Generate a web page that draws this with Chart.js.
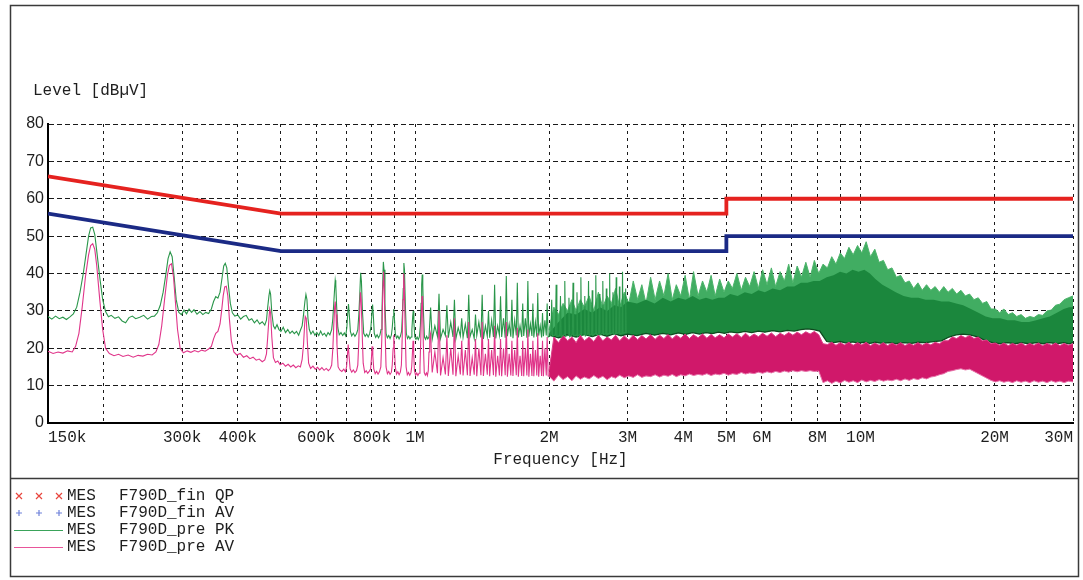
<!DOCTYPE html>
<html>
<head>
<meta charset="utf-8">
<script src="https://cdn.jsdelivr.net/npm/chart.js@4.4.1/dist/chart.umd.min.js"></script>
<style>
html,body{margin:0;padding:0;background:#fff;}
canvas{display:block;}
</style>
</head>
<body>
<canvas id="c" width="1083" height="580"></canvas>
<script>
// ---------- axis ticks ----------
const xTickValues = [150e3,200e3,300e3,400e3,500e3,600e3,700e3,800e3,900e3,1e6,2e6,3e6,4e6,5e6,6e6,7e6,8e6,9e6,10e6,20e6,30e6];
const xTickLabels = ['150k','','300k','400k','','600k','','800k','','1M','2M','3M','4M','5M','6M','','8M','','10M','20M','30M'];
const yTickValues = [0,10,20,30,40,50,60,70,80];

// ---------- limit lines (MHz, dBµV) ----------
const limitFreqMHz = [0.15, 0.5, 5, 5, 30];
const qpLimit = [66, 56, 56, 60, 60];
const avLimit = [56, 46, 46, 50, 50];

// ---------- pre-scan PK trace, resolved part (kHz, dBµV) ----------
const pkSparse = [
[150,28.5],[153,27.8],[156,28.6],[159,27.9],[162,28.3],[165,27.7],[168,28.4],[171,29.2],[174,31.0],[177,35.0],[180,40.0],[183,46.0],[185,50.0],[187,52.2],[189,52.4],[191,50.5],[193,46.0],[196,39.0],[199,33.0],[202,29.8],[205,28.4],[208,28.8],[212,28.0],[216,28.4],[220,27.3],[224,26.8],[228,28.2],[232,28.6],[236,27.9],[241,28.3],[246,28.8],[251,27.8],[256,28.5],[260,28.6],[264,29.5],[268,31.5],[272,35.0],[276,40.0],[279,44.0],[282,45.8],[285,44.5],[288,39.0],[291,33.0],[295,29.6],[299,29.0],[303,30.2],[307,29.2],[311,30.5],[315,29.6],[319,30.3],[324,29.1],[329,29.8],[334,29.0],[339,29.6],[344,29.3],[349,30.5],[353,32.5],[357,33.8],[361,33.4],[365,35.0],[369,39.0],[372,42.0],[375,42.7],[378,41.5],[381,37.0],[385,32.0],[389,29.5],[394,28.6],[400,28.9],[406,27.8],[412,28.5],[418,28.8],[424,27.5],[430,27.9],[436,26.8],[442,27.6],[448,26.5],[454,27.1],[460,26.2],[464,27.5],[467,31.0],[470,34.0],[472,35.4],[474,34.5],[477,29.5],[481,26.0],[485,25.2],[490,26.3],[495,25.0],[500,24.5],[506,25.6],[512,24.2],[518,25.0],[524,24.0],[530,24.6],[536,23.9],[542,24.5],[548,23.5],[553,24.8],[558,26.0],[562,29.0],[566,32.5],[569,34.4],[572,33.0],[575,28.0],[579,25.0],[584,23.8],[590,24.6],[596,23.5],[602,24.2],[608,23.4],[614,24.6],[620,23.5],[626,24.0],[632,23.2],[638,24.2],[644,23.6],[650,25.0],[654,28.0],[657,32.0],[660,36.0],[662,38.2],[664,37.0],[667,31.0],[671,25.5],[676,23.6],[682,24.2],[688,23.4],[694,24.1],[699,23.3],[703,25.5],[706,29.0],[709,31.8],[712,29.0],[716,24.5],[721,23.3],[727,24.0],[733,23.2],[739,23.9],[744,25.0],[748,29.0],[752,35.0],[755,40.2],[758,38.0],[762,30.0],[767,24.0],[773,23.2],[779,23.8],[785,23.0],[791,23.9],[796,25.5],[800,29.0],[803,31.7],[806,29.0],[810,24.0],[816,22.9],[822,23.6],[828,22.8],[834,23.5],[839,25.0],[843,30.0],[846,37.0],[849,43.1],[852,41.0],[856,32.0],[861,24.0],[867,22.8],[873,23.4],[879,22.6],[885,23.5],[889,25.5],[893,28.5],[896,30.5],[899,28.0],[903,24.0],[909,22.7],[915,23.3],[921,22.5],[927,23.2],[933,24.5],[937,29.0],[941,36.0],[944,42.8],[947,41.0],[951,32.0],[956,24.0],[962,22.6],[968,23.2],[974,22.5],[980,23.0],[984,25.0],[988,28.5],[991,30.0],[994,27.0],[999,23.0],[1005,22.4],[1011,23.0],[1017,22.3],[1023,23.1],[1028,26.0],[1032,32.0],[1035,37.0],[1038,39.7],[1041,37.0],[1045,29.0],[1050,23.0],[1056,22.4],[1062,23.2],[1068,22.5],
[1075,23.0],[1084,30.9],[1093,22.4],[1108,26.0],
[1123,23.2],[1132,34.6],[1141,22.6],[1156,25.0],
[1170,23.4],[1179,31.5],[1188,22.8],[1203,27.0],
[1217,23.0],[1226,33.0],[1235,22.5],[1250,25.5],
[1264,23.3],[1273,28.0],[1282,22.9],[1297,26.5],
[1311,22.7],[1320,34.3],[1329,23.1],[1344,25.0],
[1358,22.6],[1367,29.0],[1376,23.4],[1391,27.0],
[1406,22.9],[1415,34.3],[1424,22.5],[1439,26.0],
[1453,23.2],[1462,30.0],[1471,22.8],[1486,27.5],
[1500,23.0],[1509,37.0],[1518,22.6],[1533,26.0],
[1547,23.5],[1556,33.9],[1565,23.0],[1580,28.0],
[1594,22.8],[1603,39.3],[1612,23.2],[1627,26.5],
[1641,23.1],[1650,33.0],[1659,22.7],[1674,27.5],
[1688,23.4],[1697,37.5],[1706,22.9],[1721,26.0],
[1736,23.0],[1745,32.0],[1754,23.3],[1769,28.0],
[1783,22.8],[1792,38.0],[1801,23.1],[1816,26.5],
[1830,23.3],[1839,32.0],[1848,22.9],[1863,27.0],
[1877,23.1],[1886,34.8],[1895,23.4],[1910,26.0],
[1924,22.9],[1933,29.4],[1942,23.2],[1957,27.5],
[1971,23.4],[1980,32.0],[1990,23.0],
[2019,23.5],[2027,33.0],[2035,23.2],[2066,23.6],[2074,37.0],[2082,23.1],[2113,23.4],[2121,34.0],[2129,23.0],
[2161,23.6],[2169,38.0],[2177,23.2],[2208,23.5],[2216,33.5],[2224,23.1],[2255,23.7],[2263,37.5],[2271,23.3],
[2302,23.5],[2310,35.0],[2318,23.2],[2349,23.8],[2357,39.0],[2365,23.4],[2397,23.6],[2405,34.0],[2413,23.3],
[2444,23.8],[2452,38.0],[2460,23.5],[2491,23.7],[2499,35.5],[2507,23.4],[2538,23.9],[2546,39.5],[2554,23.6],
[2585,23.8],[2593,34.5],[2601,23.5],[2632,24.0],[2640,38.0],[2648,23.7],[2680,23.9],[2688,36.0],[2696,23.6],
[2727,24.0],[2735,40.0],[2743,23.8],[2774,24.1],[2782,35.0],[2790,23.7],[2821,24.0],[2829,39.0],[2837,23.9],
[2868,24.2],[2876,36.5],[2884,23.8],[2915,24.1],[2923,40.5],[2931,24.0],[2963,24.2],[2971,36.0],[2979,24.0]
];

// ---------- pre-scan AV trace, resolved part (kHz, dBµV) ----------
const avSparse = [
[150,19.2],[154,18.6],[158,19.0],[162,18.7],[166,19.3],[170,19.0],[173,20.5],[176,24.0],[179,31.0],[182,39.0],[185,45.0],[187,47.5],[189,48.0],[191,46.5],[193,42.0],[196,33.0],[199,25.0],[202,20.0],[206,18.6],[211,18.0],[216,18.4],[221,17.8],[227,18.2],[233,17.6],[239,18.1],[245,17.9],[251,18.4],[257,18.2],[262,19.0],[266,21.0],[270,26.0],[274,33.0],[278,39.5],[281,42.2],[284,42.6],[287,39.0],[290,32.0],[293,25.0],[297,20.0],[302,18.8],[308,19.3],[314,18.9],[320,19.4],[326,19.0],[332,19.5],[338,19.2],[344,19.8],[349,20.5],[353,22.5],[357,24.0],[361,24.5],[365,26.5],[368,30.0],[371,34.0],[374,36.4],[377,36.6],[380,34.0],[383,28.0],[387,22.0],[392,19.0],[398,18.2],[405,18.6],[412,17.6],[419,18.0],[426,17.2],[433,17.6],[440,16.8],[447,17.1],[454,16.4],[460,16.9],[464,18.5],[467,23.0],[470,28.0],[472,30.5],[474,29.5],[477,23.0],[481,17.5],[486,16.2],[492,16.6],[498,15.6],[505,16.0],[512,15.2],[519,15.7],[526,15.0],[533,15.5],[540,14.8],[547,15.3],[553,15.0],[558,17.0],[562,21.0],[565,26.0],[567,28.5],[570,28.0],[573,22.0],[577,16.0],[583,14.6],[590,15.2],[597,14.4],[604,14.9],[611,14.2],[618,14.8],[625,14.1],[632,14.6],[639,14.0],[645,14.5],[650,15.5],[654,20.0],[657,26.0],[660,31.0],[662,32.5],[665,29.0],[668,21.0],[672,15.0],[678,14.2],[685,13.8],[692,14.4],[698,13.7],[702,15.0],[705,18.0],[708,21.0],[711,18.0],[715,14.5],[721,13.6],[727,14.2],[733,13.5],[739,14.0],[744,15.5],[748,22.0],[751,29.0],[754,35.0],[757,33.0],[761,24.0],[765,16.0],[771,13.5],[777,14.0],[783,13.3],[789,13.8],[795,14.5],[798,17.0],[801,20.5],[804,18.0],[808,14.5],[814,13.2],[820,13.8],[826,13.1],[832,13.7],[838,15.0],[842,22.0],[845,31.0],[848,38.0],[850,40.5],[853,36.0],[857,24.0],[861,15.0],[867,13.2],[873,13.8],[879,13.0],[885,13.6],[889,15.5],[893,20.0],[896,23.5],[899,20.0],[903,15.0],[909,13.1],[915,13.7],[921,12.9],[927,13.6],[932,15.5],[936,23.0],[940,33.0],[943,40.0],[946,37.0],[950,26.0],[955,15.0],[961,12.9],[967,13.5],[973,12.8],[979,13.4],[983,15.0],[987,19.0],[990,22.0],[993,19.0],[997,14.0],[1003,12.8],[1009,13.4],[1015,12.7],[1021,13.3],[1026,15.0],[1030,22.0],[1034,30.0],[1037,34.0],[1040,31.0],[1044,21.0],[1049,13.5],[1055,12.8],[1061,13.4],[1066,12.7],[1071,14.0],[1075,19.0],[1079,23.0],[1084,24.0],[1088,19.0],[1093,13.5],
[1108,19.0],[1123,13.3],[1132,30.0],[1141,12.7],[1156,17.5],[1170,13.0],[1179,23.5],[1188,12.6],[1203,20.0],[1217,12.9],[1226,28.0],[1235,12.5],[1250,18.0],[1264,13.0],[1273,22.0],[1282,12.7],[1297,19.5],[1311,12.8],[1320,27.0],[1329,12.6],[1344,17.5],[1358,12.9],[1367,22.5],[1376,12.5],[1391,20.0],[1406,12.8],[1415,27.0],[1424,12.6],[1439,18.5],[1453,12.9],[1462,22.5],[1471,12.5],[1486,19.5],[1500,12.8],[1509,26.0],[1518,12.4],[1533,18.0],[1547,12.7],[1556,22.5],[1565,12.5],[1580,20.0],[1594,12.8],[1603,27.0],[1612,12.4],[1627,18.5],[1641,12.7],[1650,22.0],[1659,12.6],[1674,19.5],[1688,12.8],[1697,25.5],[1706,12.4],[1721,18.0],[1736,12.6],[1745,22.0],[1754,12.5],[1769,20.0],[1783,12.7],[1792,25.0],[1801,12.4],[1816,18.5],[1830,12.6],[1839,22.0],[1848,12.5],[1863,19.5],[1877,12.7],[1886,24.0],[1895,12.4],[1910,18.0],[1924,12.6],[1933,22.0],[1942,12.5],[1957,20.0],[1971,12.7],[1980,23.0],[1990,12.6],[2000,12.5]
];

// ---------- dense part above 2 MHz, coarse envelopes (MHz, dBµV) ----------
const bandFreqMHz = [2.0,2.1,2.2,2.3,2.4,2.5,2.6,2.7,2.8,2.9,3.0,3.15,3.3,3.45,3.6,3.75,3.9,4.05,4.2,4.35,4.5,4.65,4.8,4.95,5.1,5.3,5.5,5.7,5.9,6.1,6.35,6.6,6.85,7.1,7.35,7.6,7.85,8.1,8.4,8.7,9.0,9.3,9.6,9.9,10.2,10.5,10.8,11.2,11.6,12.0,12.5,13.0,13.5,14.0,14.6,15.2,15.8,16.4,17.0,17.7,18.4,19.1,19.8,20.6,21.4,22.2,23.0,23.9,24.8,25.7,26.6,27.6,28.6,29.4,30.0];
const pkBandCore = [24,27,29.5,29,30.5,29.5,31,30,31.5,31,32.5,32,33,32,33.5,32.5,33.5,33,34,33,33.5,33,33.5,33.5,34.5,34,35,34.5,35.5,35,36,35.5,36.5,36.5,37.5,37.5,38,38,39,39.5,40.5,40,41,40.5,41,40,38.5,37,36,35,34,33.5,33.5,33,33,32.5,32.5,32,31.5,30.5,29.5,28.5,28,28,27.5,27.5,27,27,27.5,28,28.5,29.5,30.5,31,31];
const pkBandLow  = [23.5,22.8,23.6,23.0,23.7,23.1,23.8,23.2,23.9,23.3,23.8,23.4,24.0,23.5,24.0,23.6,24.1,23.7,24.2,23.8,24.2,23.9,24.3,24.0,24.4,24.1,24.5,24.2,24.6,24.3,24.7,24.4,24.8,24.6,25.0,25.2,25.0,24.6,21.8,21.5,21.8,21.4,21.7,21.4,21.6,21.3,21.6,21.3,21.5,21.2,21.5,21.3,21.6,21.5,21.8,22.0,23.0,23.6,23.8,23.5,23.0,22.0,21.5,21.2,21.5,21.2,21.5,21.2,21.5,21.2,21.5,21.2,21.5,21.2,21.5];

// ---------- dense part above 2 MHz, fine spike envelopes (MHz, dBµV) ----------
const fineFreqMHz = [
2.00,2.05,2.10,2.15,2.20,2.25,2.30,2.35,2.40,2.46,
2.52,2.58,2.64,2.70,2.76,2.82,2.88,2.95,3.02,3.09,
3.16,3.23,3.30,3.38,3.46,3.54,3.62,3.70,3.78,3.86,
3.95,4.04,4.13,4.22,4.32,4.42,4.52,4.62,4.72,4.83,
4.94,5.05,5.16,5.28,5.40,5.52,5.64,5.77,5.90,6.03,
6.17,6.31,6.45,6.60,6.75,6.90,7.05,7.21,7.37,7.54,
7.71,7.88,8.06,8.24,8.43,8.62,8.81,9.01,9.21,9.42,
9.63,9.85,10.07,10.3,10.53,10.77,11.01,11.26,11.51,11.77,
12.04,12.31,12.59,12.87,13.16,13.46,13.76,14.07,14.39,14.71,
15.04,15.38,15.73,16.08,16.44,16.81,17.19,17.58,17.98,18.38,
18.79,19.21,19.64,20.08,20.53,20.99,21.46,21.94,22.43,22.94,
23.46,23.99,24.53,25.08,25.64,26.22,26.81,27.41,28.03,28.66,
29.3,30.0];
const pkFineTop = [
25,31,29,32,30,33,30,33,31,34,
30,35,31,34,32,36,31,35,32,38,
33,37,32,39,33,38,34,40,33,37,
34,39.5,33,40.5,34,38,35,39.5,34,38.5,
35,38,36,40,35.5,39,36.5,40.5,36,41,
37,41.5,36.5,40.5,38,42.5,37.5,42,39,43,
39,43.5,40,42.5,41.5,44.5,42.5,45.5,44,47,
45,47.5,45.5,48.5,44.5,46.5,43,43.5,41,41.5,
39,39.5,37.5,38,36,37.5,35.5,37,35.5,36.5,
35,36.5,35,36,34.5,35.5,34,34.5,33,33.5,
32,32.5,30.5,30.5,29.5,30.5,29,29.5,28.5,29,
28,28.5,28.2,29,28.8,30,30.2,31.5,31.8,33,
33.5,34];
const avFineTop = [
14,23,21.5,23.5,22,23,21.5,23.5,22,23,
21.8,23.5,22,23,22.2,23.5,22,23.3,22.2,23.5,
22.3,23.4,22.5,23.6,22.4,23.5,22.6,23.7,22.5,23.5,
22.7,23.8,22.6,23.6,22.8,23.8,22.7,23.7,22.8,23.6,
22.8,23.8,23,23.9,22.9,24,23,23.8,23.1,24,
23.2,24.1,23.1,24,23.4,24.2,23.5,24.3,23.6,24.4,
23.8,24.5,23.6,21.2,21,21.6,20.8,21.5,20.9,21.6,
20.8,21.5,20.9,21.6,20.7,21.4,20.8,21.5,20.7,21.4,
20.8,21.5,20.7,21.3,20.8,21.5,20.8,21.4,20.9,21.6,
21.2,22,22,23,22.6,23.4,22.8,23.4,22.6,23,
22,22.2,21.2,21.4,20.8,21.4,20.7,21.3,20.8,21.4,
20.7,21.3,20.8,21.4,20.7,21.3,20.8,21.4,20.7,21.3,
20.8,21.2];
const avFineLow = [
12.5,11.2,12.8,11.6,12.4,11.3,12.6,11.7,12.3,11.8,
12.7,11.9,12.5,11.6,12.4,12.0,12.8,12.1,12.6,12.2,
12.9,12.2,12.6,12.4,12.9,12.3,12.8,12.5,13.0,12.4,
12.9,12.6,13.1,12.7,13.0,12.8,13.2,12.7,13.1,12.9,
13.3,12.8,13.2,13.0,13.5,13.1,13.4,13.2,13.6,13.3,
13.7,13.4,13.8,13.5,13.9,13.6,14.0,13.7,14.0,13.8,
14.0,13.8,13.9,10.8,11.3,10.6,11.2,10.7,11.4,10.9,
11.3,10.8,11.5,11.0,11.4,11.1,11.6,11.2,11.5,11.3,
11.7,11.3,11.8,11.4,11.9,11.6,12.1,11.8,12.3,12.5,
12.9,13.2,13.8,14.0,14.3,14.5,14.2,14.4,13.8,13.2,
12.6,12.0,11.4,11.0,11.3,10.9,11.2,10.8,11.3,10.9,
11.2,10.8,11.3,10.9,11.2,10.8,11.3,10.9,11.2,10.8,
11.2,11.0];

// ---------- legend ----------
const legendEntries = [
  {marker:'x', color:'#e8463e', src:'MES', name:'F790D_fin QP'},
  {marker:'+', color:'#6f82da', src:'MES', name:'F790D_fin AV'},
  {marker:'line', color:'#3aa35a', src:'MES', name:'F790D_pre PK'},
  {marker:'line', color:'#e8559a', src:'MES', name:'F790D_pre AV'}
];
const yTitle = 'Level [dBµV]';
const xTitle = 'Frequency [Hz]';

// ---------- build datasets ----------
const kHzPts = arr => arr.map(p => ({x: p[0]*1e3, y: p[1]}));
const mhzPts = (freqs, vals) => freqs.map((f,i) => ({x: f*1e6, y: vals[i]}));

const base = {pointRadius:0, tension:0, fill:false};
const datasets = [
  {...base, label:'QP limit', data: mhzPts(limitFreqMHz, qpLimit), borderColor:'#e5221f', borderWidth:3.8},   //0
  {...base, label:'AV limit', data: mhzPts(limitFreqMHz, avLimit), borderColor:'#1b2a85', borderWidth:3.8},   //1
  {...base, label:'F790D_fin QP', data: [], borderColor:'#e8463e', showLine:false, pointStyle:'crossRot'},      //2
  {...base, label:'F790D_fin AV', data: [], borderColor:'#6f82da', showLine:false, pointStyle:'cross'},         //3
  {...base, label:'F790D_pre AV', data: kHzPts(avSparse), borderColor:'#e0358a', borderWidth:1.1},             //4
  {...base, label:'F790D_pre PK', data: kHzPts(pkSparse), borderColor:'#2a964a', borderWidth:1.1},             //5
  {...base, label:'AV low', data: mhzPts(fineFreqMHz, avFineLow), borderColor:'#e874aa', borderWidth:1},       //6
  {...base, label:'AV top', data: mhzPts(fineFreqMHz, avFineTop), borderColor:'#dc3c86', borderWidth:1, fill:6, backgroundColor:'#d0186a'}, //7
  {...base, label:'PK low', data: mhzPts(bandFreqMHz, pkBandLow), borderColor:'#0e4a1f', borderWidth:1.3},     //8
  {...base, label:'PK core', data: mhzPts(bandFreqMHz, pkBandCore), borderColor:'rgba(0,0,0,0)', borderWidth:0, fill:8, backgroundColor:'#1b873d'}, //9
  {...base, label:'PK top', data: mhzPts(fineFreqMHz, pkFineTop), borderColor:'#4cb46a', borderWidth:1, fill:8, backgroundColor:'#41ad62'}       //10
];

// ---------- plugin for frame and texts ----------
const framePlugin = {
  id:'frame',
  beforeDraw(chart){
    const c = chart.ctx;
    c.save();
    c.fillStyle = '#fff';
    c.fillRect(0,0,chart.width,chart.height);
    c.strokeStyle = '#3a3a3a';
    c.lineWidth = 1.5;
    c.strokeRect(10.5,5.5,1068,571);
    c.beginPath(); c.moveTo(10,478.5); c.lineTo(1079,478.5); c.stroke();
    c.restore();
  },
  afterDraw(chart){
    const c = chart.ctx;
    c.save();
    c.fillStyle = '#1e1e1e';
    c.font = '16px "Liberation Mono", monospace';
    c.textBaseline = 'middle';
    c.textAlign = 'left';
    c.fillText(yTitle, 33, 91);
    c.textAlign = 'center';
    c.fillText(xTitle, (chart.chartArea.left + chart.chartArea.right)/2, 460);
    const rows = [496, 513, 530, 547];
    const mx = [19, 39, 59];
    legendEntries.forEach((e, i) => {
      const y = rows[i];
      c.strokeStyle = e.color; c.lineWidth = 1.2;
      if (e.marker === 'line') {
        c.beginPath(); c.moveTo(14, y+0.5); c.lineTo(63, y+0.5); c.stroke();
      } else {
        mx.forEach(x => {
          c.beginPath();
          if (e.marker === 'x') { c.moveTo(x-3,y-3); c.lineTo(x+3,y+3); c.moveTo(x+3,y-3); c.lineTo(x-3,y+3); }
          else { c.moveTo(x-3,y); c.lineTo(x+3,y); c.moveTo(x,y-3); c.lineTo(x,y+3); }
          c.stroke();
        });
      }
      c.fillStyle = '#1e1e1e';
      c.textAlign = 'left';
      c.fillText(e.src, 67, y);
      c.fillText(e.name, 119, y);
    });
    c.restore();
  }
};

new Chart(document.getElementById('c'), {
  type: 'line',
  data: { datasets },
  options: {
    responsive: false,
    animation: false,
    devicePixelRatio: 1,
    layout: { padding: { top: 124, left: 0, right: 10, bottom: 127 } },
    plugins: { legend: {display:false}, tooltip: {enabled:false}, filler: {propagate:false} },
    scales: {
      x: {
        type: 'logarithmic',
        min: 150e3, max: 30e6,
        afterBuildTicks: s => { s.ticks = xTickValues.map(v => ({value: v})); },
        afterFit: s => { s.height = 30; },
        ticks: {
          autoSkip: false, maxRotation: 0, minRotation: 0, align: 'inner', padding: 5,
          color: '#1e1e1e', font: { family: '"Liberation Mono", monospace', size: 16 },
          callback: (v, i) => xTickLabels[i]
        },
        grid: { color: c => (c.tick && c.tick.value === 150e3) ? 'rgba(0,0,0,0)' : '#1a1a1a', lineWidth: 1, drawTicks: false },
        border: { display: true, color: '#000', width: 2, dash: [3,4] }
      },
      y: {
        min: 0, max: 80,
        afterBuildTicks: s => { s.ticks = yTickValues.map(v => ({value: v})); },
        afterFit: s => { s.width = 48; },
        ticks: { padding: 4, color: '#1e1e1e', font: { family: '"Liberation Sans", Arial, sans-serif', size: 16 } },
        grid: { color: '#1a1a1a', lineWidth: 1, drawTicks: false },
        border: { display: true, color: '#000', width: 2, dash: [5,3] }
      }
    }
  },
  plugins: [framePlugin]
});
</script>
</body>
</html>
